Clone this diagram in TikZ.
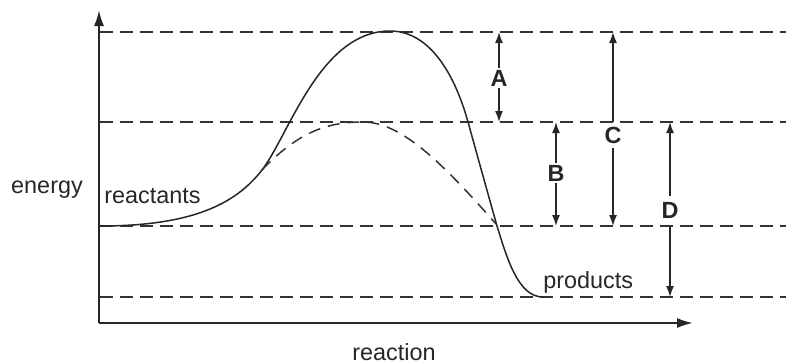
\documentclass[tikz,border=0pt]{standalone}
\usepackage{fontspec}
\setmainfont{Liberation Sans}
\usepackage{tikz}
\usetikzlibrary{arrows.meta}
\tikzset{
  axis/.style={line width=1pt,black!85,-{Latex[length=8pt,width=5pt]}},
  lvl/.style={dash pattern=on 6.5pt off 3.5pt,line width=0.75pt,black!80},
  path/.style={line width=0.75pt,black!85},
  alt/.style={dash pattern=on 6pt off 4pt,line width=0.75pt,black!80},
  dim/.style={-{Latex[length=5.5pt,width=4pt]},line width=0.75pt,black!85},
  txt/.style={font=\fontsize{11.7}{14}\selectfont,text=black!85,inner sep=0pt},
  key/.style={font=\fontsize{11.7}{14}\selectfont\bfseries,text=black!85,inner sep=1pt},
}
\begin{document}
\begin{tikzpicture}[x=0.5pt,y=-0.5pt]
  \useasboundingbox (0,0) rectangle (799,364);
  % axes
  \coordinate (O) at (99,323);
  \coordinate (ytip) at (99,10);
  \coordinate (xtip) at (693,323);
  \draw[axis] (O) -- (ytip);
  \draw[axis] (O) -- (xtip);
  % energy levels
  \foreach \n/\y in {top/32, mid/122, re/226, pr/297}{
    \coordinate (\n L) at (100,\y);
    \coordinate (\n R) at (786,\y);
    \draw[lvl] (\n L) -- (\n R);
  }
  % reaction path
  \coordinate (start) at (100,226);
  \coordinate (fork) at (262,170);
  \coordinate (peak) at (390,31);
  \coordinate (down) at (468,122);
  \coordinate (cross) at (497,226);
  \coordinate (end) at (543,297);
  \coordinate (join) at (496,224);
  \draw[path] (start) .. controls (190,226) and (235,205) .. (fork)
    .. controls (289,135) and (320,31) .. (peak)
    .. controls (430,31) and (455,75) .. (down)
    .. controls (478,158) and (488,194) .. (cross)
    .. controls (507,258) and (518,297) .. (end);
  \draw[alt] (fork) .. controls (300,130) and (330,122) .. (363,122)
    .. controls (400,122) and (440,160) .. (join);
  % labels
  \node[txt,anchor=base] (energy) at (47,193) {energy};
  \node[txt,anchor=base west] (reac) at (104,203) {reactants};
  \node[txt,anchor=base west] (prod) at (543,288) {products};
  \node[txt,anchor=base] (rxn) at (394,360) {reaction};
  % A, B, C, D
  \node[key] (A) at (499,78) {A};
  \node[key] (B) at (556,173) {B};
  \node[key] (C) at (613,135) {C};
  \node[key] (D) at (670,210) {D};
  \coordinate (a1) at (499,32);  \coordinate (a2) at (499,122);
  \coordinate (b1) at (556,122); \coordinate (b2) at (556,226);
  \coordinate (c1) at (613,32);  \coordinate (c2) at (613,226);
  \coordinate (d1) at (670,122); \coordinate (d2) at (670,297);
  \draw[dim] (A.north) -- (a1); \draw[dim] (A.south) -- (a2);
  \draw[dim] (B.north) -- (b1); \draw[dim] (B.south) -- (b2);
  \draw[dim] (C.north) ++(0,-2) -- (c1); \draw[dim] (C.south) ++(0,2) -- (c2);
  \draw[dim] (D.north) ++(0,-4) -- (d1);
  \draw[dim] (670,227) -- (d2);
\end{tikzpicture}
\end{document}
